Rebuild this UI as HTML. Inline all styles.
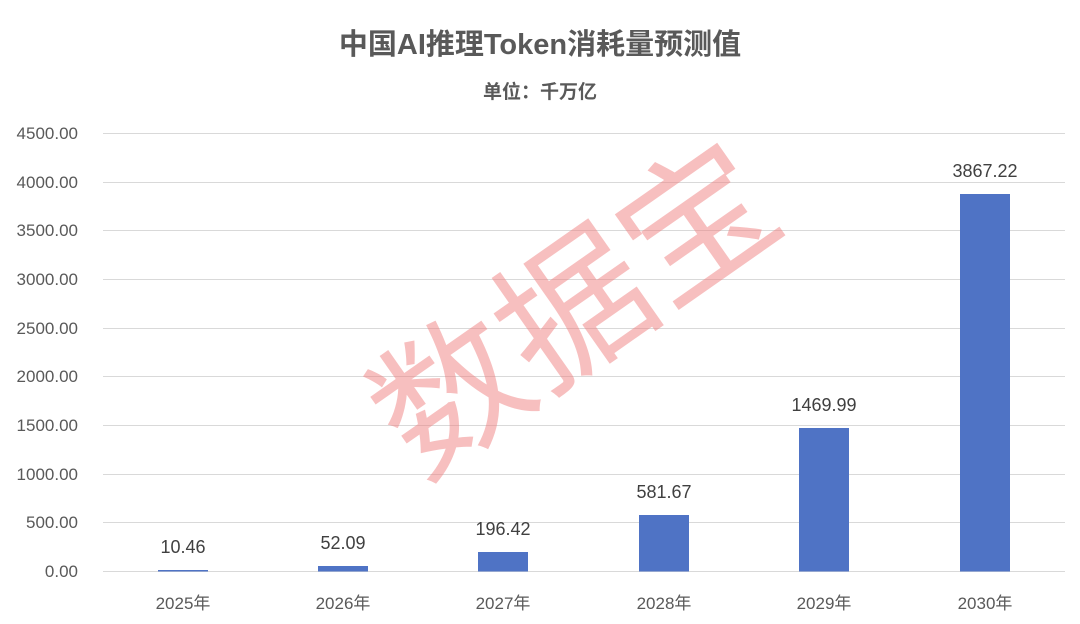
<!DOCTYPE html>
<html><head><meta charset="utf-8"><style>
html,body{margin:0;padding:0;background:#fff;overflow:hidden;width:1080px;height:624px;}
svg{display:block;}
svg text{font-family:"Liberation Sans","Noto Sans CJK SC",sans-serif;}
</style></head><body>
<svg width="1080" height="624" viewBox="0 0 1080 624" xmlns="http://www.w3.org/2000/svg">
<rect width="1080" height="624" fill="#fff"/>
<text x="540" y="54" text-anchor="middle" font-size="29" font-weight="bold" fill="#595959">中国AI推理Token消耗量预测值</text>
<text x="540" y="98" text-anchor="middle" font-size="19" font-weight="bold" fill="#595959">单位：千万亿</text>
<g stroke="#d9d9d9" stroke-width="1">
<line x1="103" x2="1065" y1="133.5" y2="133.5"/>
<line x1="103" x2="1065" y1="182.5" y2="182.5"/>
<line x1="103" x2="1065" y1="230.5" y2="230.5"/>
<line x1="103" x2="1065" y1="279.5" y2="279.5"/>
<line x1="103" x2="1065" y1="328.5" y2="328.5"/>
<line x1="103" x2="1065" y1="376.5" y2="376.5"/>
<line x1="103" x2="1065" y1="425.5" y2="425.5"/>
<line x1="103" x2="1065" y1="474.5" y2="474.5"/>
<line x1="103" x2="1065" y1="522.5" y2="522.5"/>
<line x1="103" x2="1065" y1="571.5" y2="571.5"/>
</g>
<g font-size="17" fill="#595959" text-anchor="end">
<text x="78" y="139">4500.00</text>
<text x="78" y="188">4000.00</text>
<text x="78" y="236">3500.00</text>
<text x="78" y="285">3000.00</text>
<text x="78" y="334">2500.00</text>
<text x="78" y="382">2000.00</text>
<text x="78" y="431">1500.00</text>
<text x="78" y="480">1000.00</text>
<text x="78" y="528">500.00</text>
<text x="78" y="577">0.00</text>
</g>
<g fill="#4f73c5">
<rect x="158" y="570" width="50" height="1.5"/>
<rect x="318" y="566" width="50" height="5.5"/>
<rect x="478" y="552" width="50" height="19.5"/>
<rect x="639" y="515" width="50" height="56.5"/>
<rect x="799" y="428" width="50" height="143.5"/>
<rect x="960" y="194" width="50" height="377.5"/>
</g>
<g font-size="18" fill="#404040" text-anchor="middle">
<text x="183" y="553">10.46</text>
<text x="343" y="549">52.09</text>
<text x="503" y="535">196.42</text>
<text x="664" y="498">581.67</text>
<text x="824" y="411">1469.99</text>
<text x="985" y="177">3867.22</text>
</g>
<g font-size="17" fill="#595959" text-anchor="middle">
<text x="183" y="609">2025年</text>
<text x="343" y="609">2026年</text>
<text x="503" y="609">2027年</text>
<text x="664" y="609">2028年</text>
<text x="824" y="609">2029年</text>
<text x="985" y="609">2030年</text>
</g>
<text x="0" y="0" transform="translate(582,320) rotate(-35)" text-anchor="middle" dominant-baseline="middle" font-size="150" fill="#f08080" fill-opacity="0.5">数据宝</text>
</svg>
</body></html>
